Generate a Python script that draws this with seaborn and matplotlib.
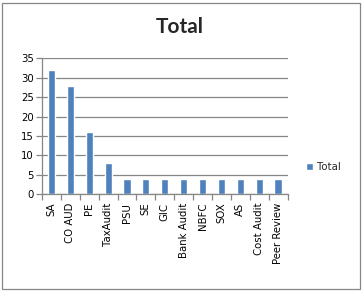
import matplotlib
matplotlib.use("Agg")
import matplotlib.pyplot as plt
import seaborn as sns
import pandas as pd
from matplotlib.patches import Rectangle

categories = ["SA", "CO AUD", "PE", "TaxAudit", "PSU", "SE", "GIC",
              "Bank Audit", "NBFC", "SOX", "AS", "Cost Audit", "Peer Review"]
totals = [32, 28, 16, 8, 4, 4, 4, 4, 4, 4, 4, 4, 4]
yticks = [0, 5, 10, 15, 20, 25, 30, 35]

sns.set_theme(style="white")
plt.rcParams['font.family'] = ['DejaVu Sans']

df = pd.DataFrame({"cat": categories, "Total": totals})

fig = plt.figure(figsize=(3.63, 2.91), dpi=100)
ax = fig.add_axes([42/363, 1 - 194.3/291, (287.5-42)/363, (194.3-58.3)/291])

sns.barplot(data=df, x="cat", y="Total", color="#4F81BD", saturation=1,
            width=0.38, ax=ax, label="Total")

ax.set_ylim(0, 35)
ax.set_xlim(-0.5, len(categories) - 0.5)
ax.set_yticks(yticks)
ax.set_yticklabels([str(v) for v in yticks], fontsize=7.3, color="black")
ax.yaxis.grid(True, color="#868686", linewidth=0.9)
ax.set_axisbelow(True)
ax.set_xlabel("")
ax.set_ylabel("")

ax.set_xticks(range(len(categories)))
ax.set_xticklabels(categories, rotation=90, fontsize=7.3, color="black")
ax.tick_params(axis="x", which="major", length=0, pad=6)
ax.set_xticks([i - 0.5 for i in range(len(categories) + 1)], minor=True)
ax.tick_params(axis="x", which="minor", length=4, color="#868686", width=0.9, direction="out", bottom=True)
ax.tick_params(axis="y", which="major", length=4, color="#868686", width=0.9, direction="out", left=True, pad=2)

for s in ["top", "right"]:
    ax.spines[s].set_visible(False)
for s in ["left", "bottom"]:
    ax.spines[s].set_color("#868686")
    ax.spines[s].set_linewidth(0.9)

leg = ax.legend(loc="center left", bbox_to_anchor=(1.04, 0.2), frameon=False,
                fontsize=7.3, handlelength=0.6, handleheight=0.6, handletextpad=0.4)

fig.text(180/363, 1 - 27/291, "Total", ha="center", va="center",
         fontsize=15, fontweight="bold", family=["Lato", "DejaVu Sans"])

fig.patches.append(Rectangle((2/363, 2/291), 358/363, 286/291, transform=fig.transFigure,
                             fill=False, edgecolor="#868686", linewidth=0.9))

fig.savefig("out.png", dpi=100)
